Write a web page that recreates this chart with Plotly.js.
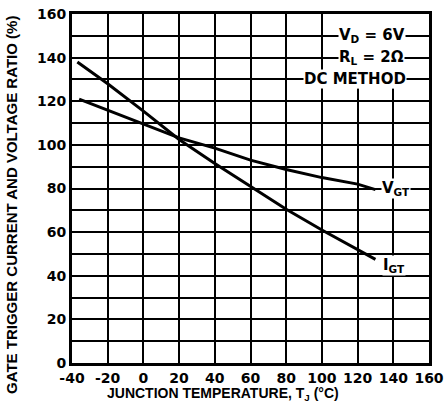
<!DOCTYPE html>
<html>
<head>
<meta charset="utf-8">
<script src="https://cdn.plot.ly/plotly-3.0.1.min.js"></script>
<style>body{margin:0;padding:0;background:#fff;}</style>
</head>
<body>
<div id="chart" style="width:445px;height:417px;"></div>
<script>
// Data
const tempIGT = [-37, -20, 0, 20, 40, 60, 80, 100, 120, 130];
const igtRatio = [138, 128, 115.5, 102.5, 91.5, 81, 70.5, 61, 52, 47.5];
const tempVGT = [-36, -20, 0, 20, 40, 60, 80, 100, 120, 130];
const vgtRatio = [121, 116, 109.5, 103.2, 98.5, 93, 88.7, 85, 82, 79.5];

const xTickVals = [-40, -20, 0, 20, 40, 60, 80, 100, 120, 140, 160];
const xTickText = ["-40", "-20", "0", "20", "40", "60", "80", "100", "120", "140", "160"];
const yTickVals = [0, 20, 40, 60, 80, 100, 120, 140, 160];
const yTickText = ["0", "20", "40", "60", "80", "100", "120", "140", "160"];

const tickFont = {family: "DejaVu Sans, Liberation Sans, sans-serif", size: 14, color: "#000", weight: "bold"};
const textFont = {family: "DejaVu Sans, Liberation Sans, sans-serif", size: 15, color: "#000", weight: "bold"};

const traces = [
  {x: tempIGT, y: igtRatio, mode: "lines", line: {color: "#000", width: 3}, hoverinfo: "skip"},
  {x: tempVGT, y: vgtRatio, mode: "lines", line: {color: "#000", width: 3}, hoverinfo: "skip"}
];

const layout = {
  width: 445, height: 417,
  margin: {l: 72, r: 16, t: 14, b: 54},
  paper_bgcolor: "#fff", plot_bgcolor: "#fff",
  showlegend: false,
  xaxis: {
    range: [-40, 160], tickmode: "array", tickvals: xTickVals, ticktext: xTickText,
    showgrid: true, gridcolor: "#000", gridwidth: 2, zeroline: false,
    showline: true, linecolor: "#000", linewidth: 3, mirror: true,
    ticks: "", tickfont: tickFont, fixedrange: true
  },
  yaxis: {
    range: [0, 160], tickmode: "array", tickvals: yTickVals, ticktext: yTickText,
    showgrid: true, gridcolor: "#000", gridwidth: 2, zeroline: false,
    minor: {dtick: 10, showgrid: true, gridcolor: "#000", gridwidth: 2},
    showline: true, linecolor: "#000", linewidth: 3, mirror: true,
    ticks: "", tickfont: tickFont, fixedrange: true
  },
  shapes: [
    {type: "rect", xref: "x", yref: "y", x0: 112, x1: 146, y0: 126, y1: 160,
     fillcolor: "#fff", line: {width: 0}, layer: "between"}
  ],
  annotations: [
    {text: "V<sub>D</sub> = 6V", x: 128, y: 150, xref: "x", yref: "y", showarrow: false,
     font: textFont, bgcolor: "#fff", borderpad: 0},
    {text: "R<sub>L</sub> = 2Ω", x: 128, y: 140, xref: "x", yref: "y", showarrow: false,
     font: textFont, bgcolor: "#fff", borderpad: 0},
    {text: "DC METHOD", x: 118.5, y: 130, xref: "x", yref: "y", showarrow: false,
     font: textFont, bgcolor: "#fff", borderpad: 0},
    {text: "V<sub>GT</sub>", x: 141.5, y: 80, xref: "x", yref: "y", showarrow: false,
     font: textFont, bgcolor: "#fff", borderpad: 0},
    {text: "I<sub>GT</sub>", x: 140.5, y: 44.5, xref: "x", yref: "y", showarrow: false,
     font: textFont, bgcolor: "#fff", borderpad: 0},
    {text: "JUNCTION TEMPERATURE, T<sub>J</sub> (°C)", x: 0.423, y: -0.088, xref: "paper", yref: "paper",
     xanchor: "center", yanchor: "middle", showarrow: false, font: {family: "Liberation Sans, Arial, sans-serif", size: 14, color: "#000", weight: "bold"}},
    {text: "GATE TRIGGER CURRENT AND VOLTAGE RATIO (%)", x: -0.168, y: 0.453, xref: "paper", yref: "paper",
     xanchor: "center", yanchor: "middle", textangle: -90, showarrow: false, font: {family: "Liberation Sans, Arial, sans-serif", size: 15, color: "#000", weight: "bold"}}
  ]
};

Plotly.newPlot("chart", traces, layout, {displayModeBar: false, staticPlot: true});
</script>
</body>
</html>
